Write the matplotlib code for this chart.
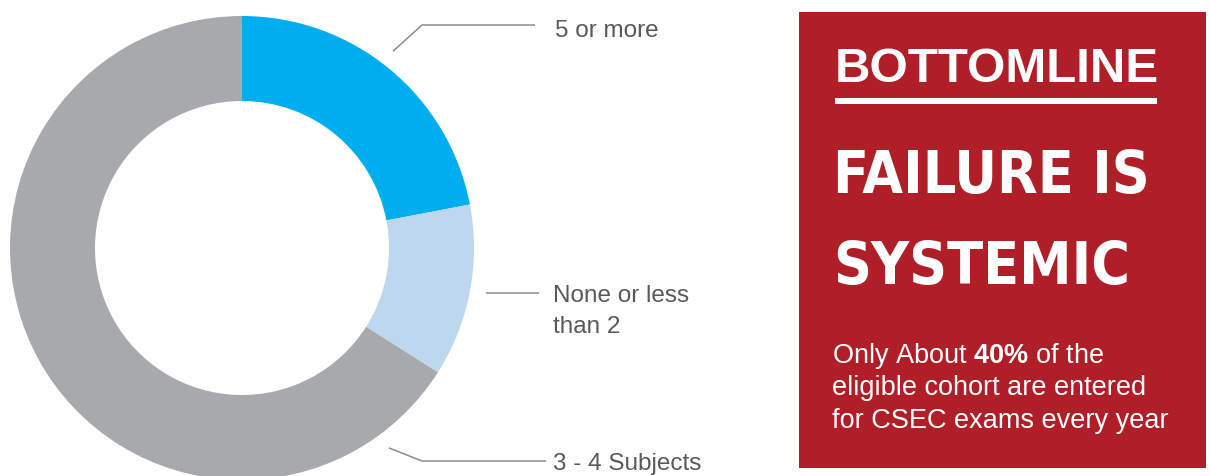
import numpy as np
import matplotlib
matplotlib.use("Agg")
import matplotlib.pyplot as plt
from matplotlib.patches import Rectangle
from matplotlib import font_manager

# ---------------- data ----------------
categories = ["5 or more", "None or less\nthan 2", "3 - 4 Subjects"]
shares = [22, 12, 66]
colors = ["#00AEEF", "#BDD7EE", "#A7A9AC"]

box_kicker = "BOTTOMLINE"
headline = ["FAILURE IS", "SYSTEMIC"]
body_lines = [r"Only About $\mathbf{40\%}$ of the",
              "eligible cohort are entered",
              "for CSEC exams every year"]

# ---------------- fonts ----------------
plt.rcParams["font.family"] = ["Liberation Sans", "DejaVu Sans"]
plt.rcParams["mathtext.fontset"] = "custom"
plt.rcParams["mathtext.rm"] = "Liberation Sans"
plt.rcParams["mathtext.bf"] = "Liberation Sans:bold"


def _w(v):
    if isinstance(v, (int, float)):
        return v
    return font_manager.weight_dict.get(v, 400)


def pick_condensed_bold():
    order = {"ultra-condensed": 0, "extra-condensed": 1, "condensed": 2,
             "semi-condensed": 3}
    best = None
    for f in font_manager.fontManager.ttflist:
        st = f.stretch if isinstance(f.stretch, str) else None
        name = f.name.lower()
        score = None
        if st in order:
            score = order[st]
        elif "condensed" in name or "narrow" in name or "compressed" in name:
            score = 2.5
        if score is None or _w(f.weight) < 600 or f.style != "normal":
            continue
        if best is None or score < best[0]:
            best = (score, f.fname)
    if best:
        return font_manager.FontProperties(fname=best[1])
    return font_manager.FontProperties(family="Liberation Sans", weight="bold")


head_fp = pick_condensed_bold()

W, H = 1211, 476
fig = plt.figure(figsize=(W / 100, H / 100), dpi=100)
ax = fig.add_axes([0, 0, 1, 1])


def Y(py):
    return H - py


cx, cy, R = 242, Y(248), 232
ax.pie(shares, colors=colors, startangle=90, counterclock=False,
       radius=R, center=(cx, cy),
       wedgeprops=dict(width=85, linewidth=0, antialiased=True))
ax.set_xlim(0, W)
ax.set_ylim(0, H)
ax.set_aspect("equal")
ax.axis("off")

# leader lines + labels
line_col = "#8C8C8C"
lab_col = "#595959"
leader_angles = [52.5, -10.4, -53.7]
elbows = [(422, 25), (487, 293), (422, 461)]
ends = [535, 539, 546]
text_pos = [(555, 37), (553, 333), (553, 470)]
for cat, ang, (ex, ey), xe, (tx, ty) in zip(categories, leader_angles, elbows, ends, text_pos):
    r0 = R + 16
    sx = cx + r0 * np.cos(np.radians(ang))
    sy = cy + r0 * np.sin(np.radians(ang))
    ax.plot([sx, ex, xe], [sy, Y(ey), Y(ey)], color=line_col, lw=1.1,
            solid_capstyle="butt")
    ax.text(tx, Y(ty), cat, fontsize=17.5, color=lab_col, ha="left",
            va="baseline", linespacing=1.5)

# red box
red = "#B01F27"
ax.add_patch(Rectangle((799, Y(468)), 1206 - 799, 468 - 12, facecolor=red,
                       edgecolor="none"))
ax.text(835, Y(82), box_kicker, fontsize=35.5, fontweight="bold", color="white",
        ha="left", va="baseline")
ax.add_patch(Rectangle((835, Y(104)), 1157 - 835, 6, facecolor="white",
                       edgecolor="none"))

# headline: fit widths to the reference
renderer = fig.canvas.get_renderer()
target_w = [317, 325]
cap_centres = [172, 263]
heads = []
for txt in headline:
    t = ax.text(833, 0, txt, fontproperties=head_fp, fontsize=50,
                color="white", ha="left", va="baseline")
    heads.append(t)
ws = [t.get_window_extent(renderer).width for t in heads]
size = min(50 * tw / w for tw, w in zip(target_w, ws))
size = min(size, 75)
cap_px = 0.72 * size * 100 / 72
for t, cc in zip(heads, cap_centres):
    t.set_fontsize(size)
    t.set_y(Y(cc + cap_px / 2))

for txt, base in zip(body_lines, [363, 395, 428]):
    ax.text(832, Y(base), txt, fontsize=19.5, color="white", ha="left",
            va="baseline")

fig.savefig("out.png", dpi=100)
